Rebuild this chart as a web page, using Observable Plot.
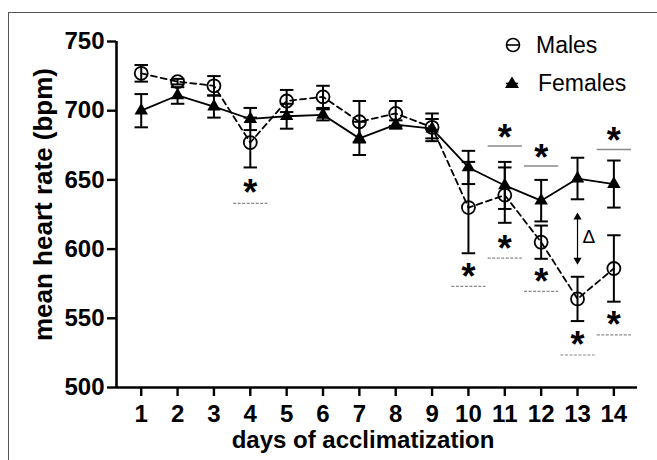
<!DOCTYPE html>
<html>
<head>
<meta charset="utf-8">
<script src="https://cdn.jsdelivr.net/npm/d3@7"></script>
<script src="https://cdn.jsdelivr.net/npm/@observablehq/plot@0.6"></script>
<style>
  html, body { margin: 0; padding: 0; background: white; }
  #wrap { position: relative; width: 657px; height: 460px; overflow: hidden; font-family: "Liberation Sans", Arial, sans-serif; }
  #border { position: absolute; left: 8px; top: 12px; right: -2px; bottom: -2px; border-left: 1px solid #555; border-top: 1px solid #555; pointer-events: none; }
  .leg { position: absolute; font-size: 23px; line-height: 26px; color: #000; }
  .legsym { position: absolute; }
</style>
</head>
<body>
<div id="wrap">
  <div id="chart"></div>
  <div id="border"></div>
  <svg class="legsym" style="left:503px;top:36px" width="20" height="18">
    <circle cx="10" cy="9" r="6.5" fill="none" stroke="#000" stroke-width="1.6"></circle>
    <line x1="4" x2="16" y1="9" y2="9" stroke="#000" stroke-width="1.6"></line>
  </svg>
  <div class="leg" style="left:536px;top:32px">Males</div>
  <svg class="legsym" style="left:502px;top:74px" width="20" height="18">
    <polygon points="10,2.5 17,14 3,14" fill="#000"></polygon>
    <line x1="4" x2="16" y1="9.5" y2="9.5" stroke="#000" stroke-width="1.6"></line>
  </svg>
  <div class="leg" style="left:538px;top:70px">Females</div>
</div>
<script>
// ---- data ----
const days = [1, 2, 3, 4, 5, 6, 7, 8, 9, 10, 11, 12, 13, 14];
const maleMean = [727, 721, 718, 677, 707, 710, 692, 698, 688, 630, 639, 605, 564, 586];
const maleErr  = [6, 2, 7, 18, 8, 8, 15, 9, 10, 33, 20, 12, 16, 24];
const femaleMean = [700, 711, 703, 694, 696, 697, 680, 690, 687, 659, 646, 635, 651, 647];
const femaleErr  = [12, 6, 8, 8, 9, 4, 12, 3, 7, 12, 17, 15, 15, 17];
const yTicks = [500, 550, 600, 650, 700, 750];

// significance annotations
const aboveDays = [11, 12, 14];
const aboveStarY = [684, 670, 682];
const aboveLineY = [674.5, 660, 672];
const belowDays = [4, 10, 11, 12, 13, 14];
const belowStarY = [644.5, 584, 604, 580, 535, 549.5];
const belowLineY = [633, 573, 593.5, 569.5, 523.5, 538];

// delta arrow at day 13
const deltaDay = 13;
const deltaTop = 626.4;
const deltaBottom = 588.7;
const deltaLabelY = 609;

// ---- derived tables ----
const males = days.map((d, i) => ({day: d, mean: maleMean[i], err: maleErr[i]}));
const females = days.map((d, i) => ({day: d, mean: femaleMean[i], err: femaleErr[i]}));
const all = females.concat(males);
const above = aboveDays.map((d, i) => ({day: d, star: aboveStarY[i], line: aboveLineY[i]}));
const below = belowDays.map((d, i) => ({day: d, star: belowStarY[i], line: belowLineY[i]}));

const xDomain = [0.32, 14.65];
const cap = 0.185;   // half cap width in day units
const half = 0.47;   // half width of significance lines

const plot = Plot.plot({
  width: 657,
  height: 460,
  marginLeft: 116,
  marginRight: 20,
  marginTop: 41,
  marginBottom: 73,
  style: {fontFamily: "'Liberation Sans', Arial, sans-serif", background: "transparent", color: "#000"},
  x: {domain: xDomain},
  y: {domain: [500, 750]},
  marks: [
    // axes lines
    Plot.ruleX([xDomain[0]], {y1: yTicks[0], y2: yTicks[yTicks.length - 1], strokeWidth: 2.6, stroke: "#000"}),
    Plot.ruleY([yTicks[0]], {x1: xDomain[0], x2: xDomain[1], strokeWidth: 2.6, stroke: "#000"}),
    Plot.axisY({ticks: yTicks, tickSize: 9, tickPadding: 3, fontSize: 24, fontWeight: "bold", strokeWidth: 2.4, label: null}),
    Plot.axisX({ticks: days, tickSize: 9, tickPadding: 8, fontSize: 24, fontWeight: "bold", strokeWidth: 2.4, label: null, tickFormat: d => String(d)}),
    // axis titles
    Plot.text(["mean heart rate (bpm)"], {frameAnchor: "left", textAnchor: "middle", lineAnchor: "middle", rotate: -90, dx: -73, dy: -10, fontSize: 26, fontWeight: "bold", text: d => d}),
    Plot.text(["days of acclimatization"], {frameAnchor: "bottom", textAnchor: "middle", lineAnchor: "middle", dx: -14, dy: 53, fontSize: 24, fontWeight: "bold", text: d => d}),
    // lines
    Plot.line(females, {x: "day", y: "mean", stroke: "#000", strokeWidth: 1.8}),
    Plot.line(males, {x: "day", y: "mean", stroke: "#000", strokeWidth: 1.8, strokeDasharray: "6,4"}),
    // error bars
    Plot.ruleX(all, {x: "day", y1: d => d.mean - d.err, y2: d => d.mean + d.err, stroke: "#000", strokeWidth: 2}),
    Plot.link(all, {x1: d => d.day - cap, x2: d => d.day + cap, y1: d => d.mean + d.err, y2: d => d.mean + d.err, stroke: "#000", strokeWidth: 2}),
    Plot.link(all, {x1: d => d.day - cap, x2: d => d.day + cap, y1: d => d.mean - d.err, y2: d => d.mean - d.err, stroke: "#000", strokeWidth: 2}),
    // markers
    Plot.dot(males, {x: "day", y: "mean", r: 6.5, stroke: "#000", fill: "none", strokeWidth: 1.8}),
    Plot.dot(females, {x: "day", y: "mean", r: 5, symbol: "triangle", fill: "#000", stroke: "none"}),
    // significance
    Plot.link(above, {x1: d => d.day - half, x2: d => d.day + half, y1: "line", y2: "line", stroke: "#888", strokeWidth: 1.5}),
    Plot.link(below, {x1: d => d.day - half, x2: d => d.day + half, y1: "line", y2: "line", stroke: "#888", strokeWidth: 1.2, strokeDasharray: "3,1.5"}),
    Plot.text(above, {x: "day", y: "star", text: () => "*", fontSize: 36, fontWeight: "bold", dy: 6}),
    Plot.text(below, {x: "day", y: "star", text: () => "*", fontSize: 36, fontWeight: "bold", dy: 6}),
    // delta arrow
    Plot.ruleX([deltaDay], {y1: deltaBottom + 4, y2: deltaTop - 4, stroke: "#000", strokeWidth: 1.2}),
    Plot.dot([deltaDay], {x: d => d, y: () => deltaTop - 3.4, symbol: "triangle", r: 3, fill: "#000", stroke: "none"}),
    Plot.dot([deltaDay], {x: d => d, y: () => deltaBottom + 3.4, symbol: "triangle", r: 3, rotate: 180, fill: "#000", stroke: "none"}),
    Plot.text([deltaDay], {x: d => d, y: () => deltaLabelY, text: () => "Δ", textAnchor: "start", dx: 5, fontSize: 19})
  ]
});
document.getElementById("chart").appendChild(plot);
</script>
</body>
</html>
